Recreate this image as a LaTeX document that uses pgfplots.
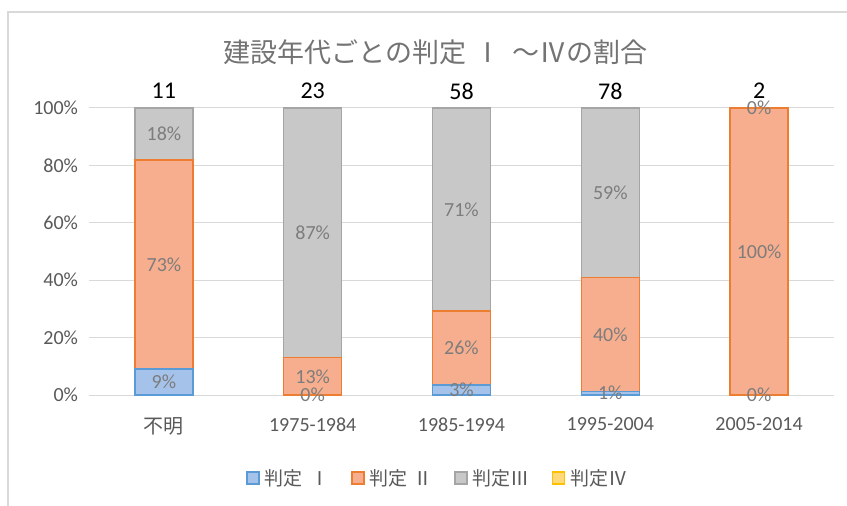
\documentclass[border=0pt]{standalone}
\usepackage{pgfplots}
\usepackage{pgfplotstable}
\pgfplotsset{compat=1.18}
\usepackage{fontspec}
\setmainfont{Carlito}
\newfontfamily\jp{Noto Sans CJK JP}
\definecolor{bI}{RGB}{91,155,213}
\definecolor{fI}{RGB}{164,194,234}
\definecolor{bII}{RGB}{237,125,49}
\definecolor{fII}{RGB}{246,174,142}
\definecolor{bIII}{RGB}{165,165,165}
\definecolor{fIII}{RGB}{200,200,200}
\definecolor{bIV}{RGB}{255,192,0}
\definecolor{fIV}{RGB}{255,217,122}
\definecolor{gridc}{RGB}{217,217,217}
\definecolor{txt}{RGB}{89,89,89}
\definecolor{lab}{RGB}{125,125,125}
\definecolor{ttl}{RGB}{115,115,115}

\pgfplotstableread{
x I II III IV n
0 9.09 72.73 18.18 0 11
1 0 13.04 86.96 0 23
2 3.45 25.86 70.69 0 58
3 1.28 39.74 58.97 0 78
4 0 100 0 0 2
}\datatable

\pgfplotsset{
  /pgf/number format/assume math mode=true,
  common/.style={
    scale only axis, width=744bp, height=287bp,
    xmin=-0.5, xmax=4.5, ymin=0, ymax=100,
    at={(0,0)}, anchor=south west,
  }
}

\begin{document}
\begin{tikzpicture}
\path[use as bounding box] (-89.5bp,-111bp) rectangle (757.5bp,395bp);
\draw[gridc, line width=1.5bp] (-81.5bp,-111bp) -- (-81.5bp,383bp) -- (757.5bp,383bp);
\node[ttl, font=\jp\fontsize{27bp}{31bp}\selectfont, anchor=center] at (346bp,343bp) {建設年代ごとの判定\hspace{0.3em}Ⅰ\hspace{0.4em}～Ⅳの割合};

\begin{axis}[common,
  ybar stacked, bar width=58bp,
  axis x line*=bottom, axis y line*=left,
  x axis line style={draw=gridc, line width=1bp},
  y axis line style={draw=none},
  major tick length=0,
  ymajorgrids, grid style={draw=gridc, line width=1bp},
  ytick={0,20,40,60,80,100},
  yticklabel={\pgfmathprintnumber{\tick}\%},
  yticklabel style={font=\fontsize{20bp}{24bp}\selectfont, text=txt, xshift=-8bp},
  xtick=data,
  xticklabels={{\jp 不明},1975-1984,1985-1994,1995-2004,2005-2014},
  xticklabel style={font=\fontsize{20bp}{24bp}\selectfont, text=txt, yshift=-19bp},
  legend columns=4,
  legend style={at={(0.468,-0.289)}, anchor=center, draw=none,
    font=\jp\fontsize{19bp}{23bp}\selectfont, text=txt,
    /tikz/every even column/.append style={column sep=20bp}},
  legend image code/.code={\draw[#1, line width=1.3bp] (0bp,-6bp) rectangle (12bp,6bp); \path (15bp,0bp);},
]
\addplot[fill=fI, draw=bI, line width=1.5bp] table[x=x, y=I] {\datatable};
\addplot[fill=fII, draw=bII, line width=1.5bp] table[x=x, y=II] {\datatable};
\addplot[fill=fIII, draw=bIII, line width=1.5bp] table[x=x, y=III] {\datatable};
\addplot[fill=fIV, draw=bIV, line width=1.5bp] table[x=x, y=IV] {\datatable};
\legend{判定\hspace{0.4em}Ⅰ, 判定\hspace{0.3em}Ⅱ, 判定Ⅲ, 判定Ⅳ}
\end{axis}

\begin{axis}[common, hide axis, clip=false,
  nodes near coords={\pgfmathprintnumber[fixed,precision=0]{\pgfplotspointmeta}\%},
  every node near coord/.append style={anchor=center, text=lab, font=\fontsize{20bp}{24bp}\selectfont},
]
\addplot[draw=none, point meta=explicit] table[x=x, y expr=\thisrow{I}/2, meta=I] {\datatable};
\addplot[draw=none, point meta=explicit] table[x=x, y expr=\thisrow{I}+\thisrow{II}/2, meta=II] {\datatable};
\addplot[draw=none, point meta=explicit] table[x=x, y expr=\thisrow{I}+\thisrow{II}+\thisrow{III}/2, meta=III] {\datatable};
\addplot[draw=none, point meta=explicit,
  nodes near coords={\pgfmathprintnumber[fixed,precision=0]{\pgfplotspointmeta}},
  every node near coord/.append style={text=black, font=\fontsize{24bp}{28bp}\selectfont, yshift=17bp}]
  table[x=x, y expr=100, meta=n] {\datatable};
\end{axis}
\end{tikzpicture}
\end{document}
